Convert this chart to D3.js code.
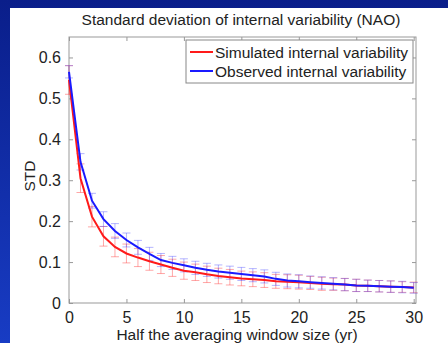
<!DOCTYPE html>
<html>
<head>
<meta charset="utf-8">
<script src="https://cdn.jsdelivr.net/npm/d3@7"></script>
<style>
  html, body { margin: 0; padding: 0; background: #fff; }
  svg text { font-family: "Liberation Sans", Arial, Helvetica, sans-serif; fill: #222; }
</style>
</head>
<body>
<div id="chart"></div>
<script>
// window size (half), yr
const xs = d3.range(0, 31)
// simulated internal variability (red)
const simStd = [0.545, 0.305, 0.211, 0.163, 0.137, 0.121, 0.111, 0.102, 0.094, 0.086,
    0.079, 0.075, 0.070, 0.066, 0.063, 0.060, 0.058, 0.056, 0.053, 0.052,
    0.051, 0.049, 0.047, 0.046, 0.045, 0.043, 0.042, 0.041, 0.040, 0.039, 0.038]
const simErr = [0.035, 0.035, 0.025, 0.024, 0.024, 0.023, 0.022, 0.022, 0.022, 0.021,
    0.021, 0.020, 0.020, 0.019, 0.019, 0.018, 0.018, 0.018, 0.017, 0.017,
    0.017, 0.016, 0.016, 0.015, 0.015, 0.015, 0.014, 0.014, 0.014, 0.013, 0.013]
// observed internal variability (blue)
const obsStd = [0.565, 0.345, 0.250, 0.205, 0.176, 0.154, 0.136, 0.120, 0.105, 0.098,
    0.092, 0.086, 0.081, 0.077, 0.074, 0.071, 0.068, 0.065, 0.059, 0.055,
    0.053, 0.051, 0.049, 0.047, 0.045, 0.043, 0.042, 0.041, 0.040, 0.039, 0.037]
const obsErr = [0.015, 0.020, 0.018, 0.018, 0.018, 0.017, 0.017, 0.016, 0.016, 0.016,
    0.016, 0.016, 0.016, 0.016, 0.016, 0.016, 0.016, 0.016, 0.016, 0.016,
    0.016, 0.015, 0.015, 0.015, 0.015, 0.015, 0.014, 0.014, 0.014, 0.014, 0.013]
const xTicks = [0, 5, 10, 15, 20, 25, 30]
const yTicks = [0, 0.1, 0.2, 0.3, 0.4, 0.5, 0.6]
const seriesNames = ["Simulated internal variability", "Observed internal variability"]

const W = 448, H = 343
const margin = { top: 37, right: 32, bottom: 40, left: 69 }
const width = W - margin.left - margin.right
const height = H - margin.top - margin.bottom

const svg = d3.select("#chart").append("svg")
    .attr("width", W).attr("height", H)

// slide background
const defs = svg.append("defs")
const grad = defs.append("linearGradient").attr("id", "bg").attr("x1", 0).attr("y1", 0).attr("x2", 0).attr("y2", 1)
grad.append("stop").attr("offset", "0%").attr("stop-color", "#0a1e8a")
grad.append("stop").attr("offset", "100%").attr("stop-color", "#183cc4")
svg.append("rect").attr("width", W).attr("height", H).attr("fill", "url(#bg)")
svg.append("rect").attr("x", 10).attr("y", 8).attr("width", W - 10).attr("height", H - 8).attr("fill", "#fff")

const g = svg.append("g").attr("transform", "translate(" + margin.left + "," + margin.top + ")")

const x = d3.scaleLinear().domain([0, 30.2]).range([0, width])
const y = d3.scaleLinear().domain([0, 0.65]).range([height, 0])

// axes (matlab style, ticks inside on all sides)
const axisColor = "#999"
g.append("rect").attr("width", width).attr("height", height)
    .attr("fill", "none").attr("stroke", axisColor).attr("stroke-width", 1)

const xAxis = g.append("g").attr("transform", "translate(0," + height + ")")
    .call(d3.axisBottom(x).tickValues(xTicks).tickSize(-4).tickPadding(9).tickFormat(d3.format("d")))
const xTop = g.append("g").call(d3.axisTop(x).tickValues(xTicks).tickSize(-4).tickFormat(""))
const yAxis = g.append("g")
    .call(d3.axisLeft(y).tickValues(yTicks).tickSize(-4).tickPadding(8).tickFormat(d => d === 0 ? "0" : d3.format(".1f")(d)))
const yRight = g.append("g").attr("transform", "translate(" + width + ",0)")
    .call(d3.axisRight(y).tickValues(yTicks).tickSize(-4).tickFormat(""))
;[xAxis, xTop, yAxis, yRight].forEach(a => {
    a.select(".domain").remove()
    a.selectAll("line").attr("stroke", axisColor)
    a.selectAll("text").style("font-size", "16px").attr("fill", "#222")
})

// error bars
const capW = 4
const drawErr = (vals, errs, color) => {
    const eg = g.append("g").attr("stroke", color).attr("stroke-width", 1).attr("fill", "none")
    xs.forEach((xv, i) => {
        const lo = y(vals[i] - errs[i]), hi = y(vals[i] + errs[i]), cx = x(xv)
        eg.append("line").attr("x1", cx).attr("x2", cx).attr("y1", lo).attr("y2", hi)
        eg.append("line").attr("x1", cx - capW).attr("x2", cx + capW).attr("y1", lo).attr("y2", lo)
        eg.append("line").attr("x1", cx - capW).attr("x2", cx + capW).attr("y1", hi).attr("y2", hi)
    })
}
drawErr(simStd, simErr, "rgba(255,60,60,0.45)")
drawErr(obsStd, obsErr, "rgba(70,70,255,0.4)")

// lines
const line = d3.line().x(d => x(d[0])).y(d => y(d[1]))
g.append("path").attr("d", line(xs.map((v, i) => [v, simStd[i]])))
    .attr("fill", "none").attr("stroke", "#ff1a1a").attr("stroke-width", 2)
g.append("path").attr("d", line(xs.map((v, i) => [v, obsStd[i]])))
    .attr("fill", "none").attr("stroke", "#1a1aff").attr("stroke-width", 2)

// legend
const lg = svg.append("g").attr("transform", "translate(186,40)")
lg.append("rect").attr("width", 227).attr("height", 43)
    .attr("fill", "#fff").attr("stroke", "#888").attr("stroke-width", 1)
const legColors = ["#ff1a1a", "#1a1aff"]
seriesNames.forEach((name, i) => {
    const yy = 12 + i * 19
    lg.append("line").attr("x1", 4).attr("x2", 27).attr("y1", yy).attr("y2", yy)
        .attr("stroke", legColors[i]).attr("stroke-width", 2)
    lg.append("text").attr("x", 29).attr("y", yy + 5.5).style("font-size", "15.5px").text(name)
})

// titles
svg.append("text").attr("x", 241).attr("y", 25).attr("text-anchor", "middle")
    .style("font-size", "15.5px").text("Standard deviation of internal variability (NAO)")
svg.append("text").attr("x", 237).attr("y", 340).attr("text-anchor", "middle")
    .style("font-size", "15.5px").text("Half the averaging window size (yr)")
svg.append("text").attr("transform", "translate(35,176) rotate(-90)").attr("text-anchor", "middle")
    .style("font-size", "15.5px").text("STD")
</script>
</body>
</html>
